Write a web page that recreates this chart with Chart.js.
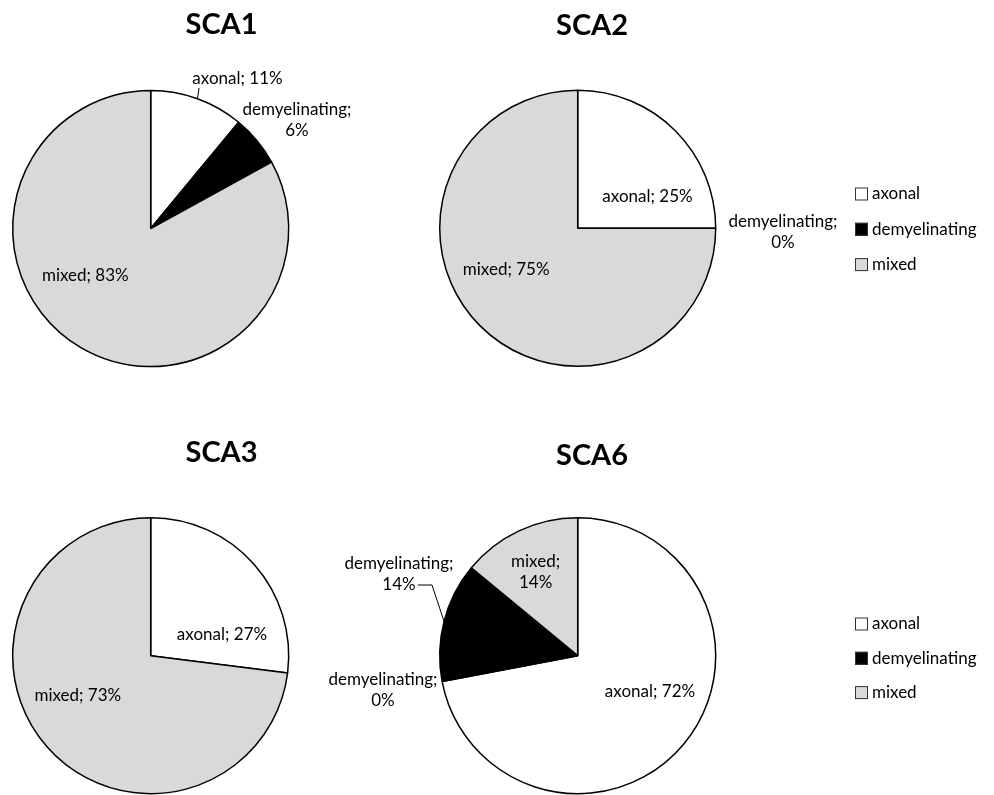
<!DOCTYPE html>
<html>
<head>
<meta charset="utf-8">
<script src="https://cdn.jsdelivr.net/npm/chart.js@4.4.1/dist/chart.umd.min.js"></script>
<style>
  body { margin: 0; background: #fff; width: 994px; height: 795px; position: relative; overflow: hidden; }
  canvas { position: absolute; }
</style>
</head>
<body>
<canvas id="pieSCA1" width="470" height="400" style="left:0px;top:0px"></canvas>
<canvas id="pieSCA2" width="694" height="400" style="left:300px;top:0px"></canvas>
<canvas id="pieSCA3" width="470" height="395" style="left:0px;top:400px"></canvas>
<canvas id="pieSCA6" width="694" height="395" style="left:300px;top:400px"></canvas>
<script>
// dados
const categories = ['axonal', 'demyelinating', 'mixed'];
const valuesSCA1 = [11, 6, 83];
const valuesSCA2 = [25, 0, 75];
const valuesSCA3 = [27, 0, 73];
const valuesSCA6 = [72, 14, 14];
const titles = ['SCA1', 'SCA2', 'SCA3', 'SCA6'];
const sliceColors = ['#ffffff', '#000000', '#d9d9d9'];

const LABEL_FONT = '17px Lato';
const LINE_H = 21;

// texts drawn on top of each pie: title, data labels (+ leader lines), legend
const pieText = {
  id: 'pieText',
  afterDraw(chart, args, opts) {
    const ctx = chart.ctx;
    const arcs = chart.getDatasetMeta(0).data;
    const cx = arcs[0].x, cy = arcs[0].y, r = arcs[0].outerRadius;
    const values = chart.data.datasets[0].data;
    ctx.save();
    ctx.fillStyle = '#000';
    ctx.textAlign = 'center';
    ctx.textBaseline = 'alphabetic';
    ctx.font = 'bold 29px Lato';
    ctx.fillText(opts.title, opts.titleX, opts.titleY);

    ctx.font = LABEL_FONT;
    ctx.textBaseline = 'middle';
    ctx.strokeStyle = '#000';
    ctx.lineWidth = 1;
    opts.labels.forEach(function (lab, i) {
      const lines = lab.wrap
        ? [categories[i] + ';', values[i] + '%']
        : [categories[i] + '; ' + values[i] + '%'];
      const lx = cx + lab.dx, ly = cy + lab.dy;
      lines.forEach(function (t, k) {
        ctx.fillText(t, lx, ly + (k - (lines.length - 1) / 2) * LINE_H);
      });
      if (lab.leader) {
        const arc = arcs[i];
        const mid = (arc.startAngle + arc.endAngle) / 2;
        ctx.beginPath();
        ctx.moveTo(lx + lab.leader[0][0], ly + lab.leader[0][1]);
        for (let p = 1; p < lab.leader.length; p++) {
          ctx.lineTo(lx + lab.leader[p][0], ly + lab.leader[p][1]);
        }
        ctx.lineTo(cx + Math.cos(mid) * r, cy + Math.sin(mid) * r);
        ctx.stroke();
      }
    });

    if (opts.legend) {
      const lg = opts.legend;
      ctx.textAlign = 'left';
      categories.forEach(function (cat, i) {
        const y = lg.y + i * lg.gap;
        ctx.fillStyle = sliceColors[i];
        ctx.fillRect(lg.x, y - 6.5, 13, 13);
        ctx.strokeStyle = '#333';
        ctx.strokeRect(lg.x + 0.5, y - 6, 12, 12);
        ctx.fillStyle = '#000';
        ctx.fillText(cat, lg.x + 17, y);
      });
    }
    ctx.restore();
  }
};

function makePie(id, values, panel) {
  const canvas = document.getElementById(id);
  const left = canvas.offsetLeft, top = canvas.offsetTop;
  const half = 139;
  const cx = panel.cx - left, cy = panel.cy - top;
  const legend = panel.legend
    ? { x: panel.legend.x - left, y: panel.legend.y - top, gap: panel.legend.gap }
    : null;

  return new Chart(canvas, {
    type: 'pie',
    data: {
      labels: categories,
      datasets: [{
        data: values,
        backgroundColor: sliceColors,
        borderColor: '#000',
        borderWidth: 1.5,
        radius: 138
      }]
    },
    options: {
      responsive: false,
      animation: false,
      devicePixelRatio: 1,
      events: [],
      layout: {
        padding: {
          left: cx - half,
          right: canvas.width - cx - half,
          top: cy - half,
          bottom: canvas.height - cy - half
        }
      },
      plugins: {
        legend: { display: false },
        tooltip: { enabled: false },
        pieText: {
          title: panel.title,
          titleX: panel.titleX - left,
          titleY: panel.titleY - top,
          labels: panel.labels,
          legend: legend
        }
      }
    },
    plugins: [pieText]
  });
}

makePie('pieSCA1', valuesSCA1, {
  cx: 150.7, cy: 228.6,
  title: titles[0], titleX: 221.5, titleY: 34,
  labels: [
    { dx: 86.8, dy: -149.6, leader: [[-38.5, 9]] },
    { dx: 146.3, dy: -108.6, wrap: true },
    { dx: -65.4, dy: 47.4 }
  ]
});

makePie('pieSCA2', valuesSCA2, {
  cx: 577.7, cy: 228.3,
  title: titles[1], titleX: 592, titleY: 35,
  labels: [
    { dx: 69.8, dy: -31.6 },
    { dx: 205.3, dy: 4.2, wrap: true },
    { dx: -71.5, dy: 41 }
  ],
  legend: { x: 855, y: 194, gap: 35.3 }
});

makePie('pieSCA3', valuesSCA3, {
  cx: 150.7, cy: 655.7,
  title: titles[2], titleX: 221.5, titleY: 462,
  labels: [
    { dx: 71.3, dy: -20.7 },
    { dx: 232.3, dy: 34.3, wrap: true },
    { dx: -72.9, dy: 40.3 }
  ]
});

makePie('pieSCA6', valuesSCA6, {
  cx: 577.7, cy: 655.7,
  title: titles[3], titleX: 592, titleY: 465,
  labels: [
    { dx: 72.3, dy: 36 },
    { dx: -178.7, dy: -81.7, wrap: true, leader: [[19, 11], [33, 11]] },
    { dx: -42.1, dy: -83.2, wrap: true }
  ],
  legend: { x: 855, y: 624, gap: 34.3 }
});
</script>
</body>
</html>
